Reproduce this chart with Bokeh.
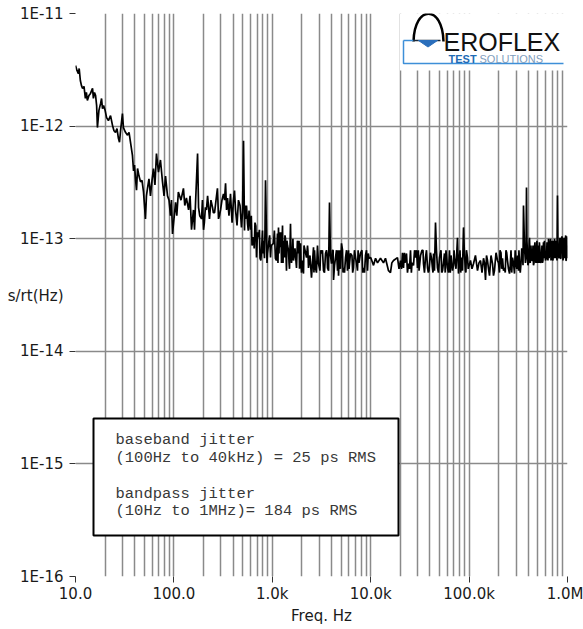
from bokeh.plotting import figure
from bokeh.models import (Range1d, LinearScale, FixedTicker, CustomJSTickFormatter,
                          Label, ColumnDataSource, LogAxis)
from bokeh.core.properties import value
from bokeh.embed import file_html
from bokeh.resources import INLINE

# Jitter spectral density (s/rt(Hz)) per decade of offset frequency.
# Each decade: trace readings, then extra readings across the noise band.
freq_10_100 = [10, 10.7, 11.2, 11.8, 12.6, 13.2, 14.2, 14.9, 15.6, 16.4,
               16.7, 18.0, 18.8, 19.3, 20.7, 21.6, 23.8, 25.5, 27.3, 28.7,
               30.0, 30.7, 33.8, 36.2, 37.9, 38.9, 40.7, 42.7, 45.8, 49.1,
               51.4, 53.9, 57.8, 62.0, 66.5, 69.7, 76.6, 82.2, 86.1, 92.3, 96.8,
               10.35, 10.9, 11.5, 12.2, 12.9, 13.7, 15.2, 16.0, 17.3, 18.4,
               20.0, 22.7, 24.6, 26.4, 28.0, 32.2, 35.0, 39.8, 41.7, 44.2,
               47.4, 52.6, 55.8, 59.9, 64.2, 73.0, 79.4, 89.2, 94.5]
psd_10_100 = [3.45e-12, 2.93e-12, 2.54e-12, 2.16e-12, 1.76e-12, 1.69e-12, 1.95e-12, 2.16e-12, 1.99e-12, 1.52e-12,
              9.7e-13, 1.59e-12, 1.43e-12, 1.52e-12, 1.19e-12, 1.12e-12, 1.01e-12, 8.8e-13, 7.8e-13, 9.1e-13,
              1.29e-12, 9.7e-13, 8.3e-13, 7.2e-13, 5.5e-13, 4.0e-13, 3.4e-13, 4.2e-13, 3.2e-13, 2.6e-13,
              1.5e-13, 2.8e-13, 2.4e-13, 4.2e-13, 5.7e-13, 3.9e-13, 3.2e-13, 3.6e-13, 2.4e-13, 1.6e-13, 1.1e-13,
              3.12e-12, 3.25e-12, 2.29e-12, 2.25e-12, 1.99e-12, 1.87e-12, 1.76e-12, 1.87e-12, 1.38e-12, 1.76e-12,
              1.38e-12, 1.24e-12, 9.1e-13, 9.5e-13, 7.2e-13, 8.8e-13, 8.8e-13, 4.5e-13, 2.7e-13, 3.6e-13,
              3.3e-13, 2.4e-13, 3.4e-13, 3.3e-13, 3.0e-13, 5.0e-13, 2.4e-13, 2.2e-13, 2.2e-13]

freq_100_1k = [104, 111, 125, 134, 141, 151, 158, 166, 174, 178,
               191, 200, 209, 220, 230, 247, 259, 277, 284, 298,
               319, 335, 351, 376, 403, 423, 453, 486, 510, 534,
               560, 600, 644, 691, 724, 777, 814, 853, 894, 959,
               107, 118, 129, 146, 162, 183, 195, 204, 214, 238,
               252, 268, 280, 290, 308, 327, 343, 363, 390, 413,
               438, 470, 498, 522, 547, 580, 622, 667, 707, 750,
               795, 833, 873, 925,
               528, 570, 612, 655, 680, 740, 765, 805, 843, 883, 940, 975]
psd_100_1k = [2.1e-13, 2.6e-13, 2.8e-13, 2.3e-13, 1.8e-13, 1.2e-13, 1.8e-13, 2.1e-13, 5.7e-13, 1.9e-13,
              1.5e-13, 1.2e-13, 1.9e-13, 2.4e-13, 1.5e-13, 1.9e-13, 1.7e-13, 2.8e-13, 1.5e-13, 1.8e-13,
              2.5e-13, 3.1e-13, 2.3e-13, 2.5e-13, 2.2e-13, 1.8e-13, 2.2e-13, 1.26e-13, 7.4e-13, 1.5e-13,
              1.37e-13, 1.2e-13, 1.03e-13, 6.8e-14, 1.03e-13, 7.9e-14, 9.6e-14, 3.3e-13, 7.4e-14, 6.8e-14,
              1.6e-13, 2.2e-13, 1.97e-13, 2.4e-13, 1.2e-13, 1.6e-13, 2.2e-13, 1.39e-13, 1.8e-13, 2.2e-13,
              1.7e-13, 2.2e-13, 2.2e-13, 1.6e-13, 2.2e-13, 2.2e-13, 1.8e-13, 1.6e-13, 1.39e-13, 2.68e-13,
              1.31e-13, 1.97e-13, 1.71e-13, 1.18e-13, 1.97e-13, 1.78e-13, 8.7e-14, 1.39e-13, 1.14e-13, 6.7e-14,
              1.18e-13, 6.7e-14, 1.07e-13, 9.6e-14,
              1.97e-13, 1.18e-13, 1.6e-13, 8.2e-14, 1.3e-13, 1.2e-13, 6.4e-14, 7.4e-14, 1.2e-13, 6.1e-14,
              1.07e-13, 8.7e-14]

freq_1k_10k = [1028, 1129, 1156, 1211, 1270, 1330, 1394, 1461, 1531, 1605,
               1642, 1762, 1846, 1935, 2027, 2075, 2227, 2333, 2502, 2623,
               2748, 2879, 2948, 3160, 3314, 3473, 3640, 3814, 3996, 4190,
               4390, 4600, 4820, 5050, 5290, 5550, 5810, 6230, 6680, 7010,
               7340, 7870, 8450, 8850, 9280,
               1075, 1142, 1183, 1240, 1300, 1362, 1428, 1496, 1568, 1700,
               1800, 1890, 1980, 2150, 2280, 2415, 2560, 2685, 2810, 3050,
               3235, 3390, 3555, 3730, 3900, 4090, 4290, 4490, 4710, 4935,
               5170, 5420, 5680, 6020, 6450, 6840, 7170, 7600, 8150, 8650,
               9060, 9640,
               1050, 1100, 1170, 1225, 1285, 1345, 1410, 1480, 1550, 1620,
               1730, 1870, 1960, 2100, 2300, 2650, 3100, 3600, 4150, 4650,
               5230, 5950, 6560, 7450, 8300, 9450]
psd_1k_10k = [9.1e-14, 1.11e-13, 1.26e-13, 8.4e-14, 1.31e-13, 6.8e-14, 5.2e-14, 7.9e-14, 1.36e-13, 7.9e-14,
              6.4e-14, 5.5e-14, 7.4e-14, 9.1e-14, 6.4e-14, 4.9e-14, 6.8e-14, 5.5e-14, 4.5e-14, 8.4e-14,
              5.5e-14, 8.7e-14, 6.0e-14, 7.4e-14, 5.2e-14, 7.4e-14, 5.5e-14, 2.1e-13, 6.0e-14, 4.3e-14,
              6.8e-14, 5.2e-14, 7.9e-14, 9.1e-14, 5.5e-14, 6.8e-14, 5.2e-14, 7.4e-14, 5.5e-14, 6.8e-14,
              5.2e-14, 7.4e-14, 5.5e-14, 7.1e-14, 5.2e-14,
              6.7e-14, 6.1e-14, 1.14e-13, 6.1e-14, 9.6e-14, 1.0e-13, 8.7e-14, 5.4e-14, 6.1e-14, 8.2e-14,
              9.6e-14, 5.4e-14, 5.0e-14, 7.9e-14, 8.7e-14, 7.1e-14, 6.1e-14, 7.9e-14, 5.0e-14, 5.2e-14,
              7.9e-14, 5.0e-14, 7.9e-14, 5.2e-14, 7.1e-14, 7.9e-14, 5.8e-14, 7.9e-14, 4.7e-14, 5.4e-14,
              7.9e-14, 5.0e-14, 7.9e-14, 5.4e-14, 7.1e-14, 7.9e-14, 6.1e-14, 6.1e-14, 7.9e-14, 5.0e-14,
              7.9e-14, 6.7e-14,
              1.18e-13, 6.4e-14, 7.4e-14, 1.14e-13, 6.1e-14, 1.07e-13, 9.6e-14, 6.1e-14, 7.4e-14, 1.0e-13,
              6.7e-14, 9.6e-14, 6.1e-14, 8.7e-14, 7.9e-14, 5.0e-14, 7.9e-14, 7.4e-14, 7.9e-14, 7.9e-14,
              5.0e-14, 7.9e-14, 5.0e-14, 7.9e-14, 5.0e-14, 7.4e-14]

freq_10k_100k = [10000, 10680, 11720, 12580, 13490, 14130, 15170, 15890, 17050, 18720,
                 20080, 21040, 21540, 23110, 24200, 25380, 27230, 28530, 29900, 32100,
                 34400, 36050, 37800, 40500, 42500, 43500, 45560, 47700, 50000, 53700,
                 56200, 60300, 63200, 67800, 71100, 76200, 78000, 83700, 87700, 91900, 96300,
                 11200, 16400, 19400, 20560, 22300, 23650, 24800, 26300, 27900, 29200,
                 31000, 33200, 35200, 36900, 39100, 41500, 44500, 46600, 48800, 51800,
                 54900, 58200, 61700, 65500, 69400, 73600, 80800, 85700, 89800, 94000, 98000,
                 22000, 25900, 30500, 34000, 38500, 43000, 52700, 57200, 64400, 70300,
                 82200, 92800]
psd_10k_100k = [6.8e-14, 5.8e-14, 6.1e-14, 6.7e-14, 6.1e-14, 6.7e-14, 5.2e-14, 5.0e-14, 6.4e-14, 6.8e-14,
                6.4e-14, 7.5e-14, 5.5e-14, 7.4e-14, 6.0e-14, 7.9e-14, 5.8e-14, 6.8e-14, 5.5e-14, 7.1e-14,
                6.0e-14, 6.8e-14, 5.5e-14, 7.5e-14, 5.4e-14, 7.4e-14, 1.39e-13, 5.5e-14, 6.8e-14, 5.2e-14,
                7.4e-14, 5.5e-14, 7.9e-14, 5.2e-14, 6.8e-14, 1.02e-13, 4.9e-14, 6.8e-14, 1.26e-13, 5.2e-14, 6.8e-14,
                6.7e-14, 6.1e-14, 5.4e-14, 5.4e-14, 6.1e-14, 5.0e-14, 5.4e-14, 6.1e-14, 7.9e-14, 7.9e-14,
                5.2e-14, 7.9e-14, 5.0e-14, 7.9e-14, 5.2e-14, 6.7e-14, 5.2e-14, 7.9e-14, 5.0e-14, 7.9e-14,
                6.1e-14, 7.9e-14, 5.0e-14, 7.1e-14, 5.8e-14, 5.4e-14, 7.9e-14, 5.2e-14, 7.1e-14, 7.9e-14, 5.4e-14,
                7.5e-14, 5.0e-14, 7.9e-14, 7.9e-14, 5.0e-14, 5.0e-14, 5.0e-14, 5.0e-14, 5.0e-14, 7.9e-14,
                5.0e-14, 5.0e-14]

freq_100k_1M = [103300, 110800, 121700, 130600, 140100, 146800, 153800, 161200, 172900, 181100,
                194400, 203700, 218500, 229000, 245500, 257400, 276100, 289300, 310400, 325200,
                348800, 357100, 365600, 383100, 392200, 411000, 441000, 462000, 484000, 507000,
                544000, 570000, 612000, 641000, 688000, 721000, 773000, 791000, 829000, 869000,
                911000, 954000, 977000, 1000000,
                107000, 116000, 126000, 135300, 143400, 150300, 157500, 167000, 177000, 187700,
                199000, 211000, 223700, 237000, 251400, 266500, 282600, 300000, 317700, 337000,
                374000, 401000, 425000, 451000, 473000, 495000, 525000, 557000, 590000, 626000,
                664000, 704000, 747000, 810000, 849000, 890000, 932000, 965000, 988000,
                206000, 214000, 233000, 241000, 262000, 271000, 294000, 305000, 321000, 331000,
                343000, 353000, 379000, 387000, 396000, 418000, 433000, 446000, 457000, 467000,
                478000, 489000, 501000, 513000, 518000, 531000, 550000, 563000, 577000, 583000,
                598000, 619000, 633000, 650000, 672000, 680000, 696000, 712000, 730000, 739000,
                756000, 764000, 782000, 800000, 820000, 838000, 858000, 879000, 900000, 921000,
                943000, 959000, 971000, 983000, 994000]
psd_100k_1M = [6.4e-14, 6.0e-14, 5.2e-14, 6.4e-14, 6.7e-14, 4.3e-14, 6.4e-14, 4.7e-14, 6.0e-14, 5.2e-14,
               6.4e-14, 5.0e-14, 6.7e-14, 5.5e-14, 6.4e-14, 4.9e-14, 6.8e-14, 4.9e-14, 7.1e-14, 6.0e-14,
               7.5e-14, 1.97e-13, 8.4e-14, 2.85e-13, 7.5e-14, 1.02e-13, 6.4e-14, 8.4e-14, 6.8e-14, 8.7e-14,
               6.4e-14, 9.3e-14, 6.8e-14, 1.0e-13, 7.1e-14, 9.6e-14, 7.9e-14, 2.42e-13, 8.4e-14, 1.0e-13,
               7.1e-14, 1.02e-13, 7.4e-14, 8.7e-14,
               5.4e-14, 7.1e-14, 6.1e-14, 5.0e-14, 6.1e-14, 7.1e-14, 5.4e-14, 7.1e-14, 4.7e-14, 7.5e-14,
               6.1e-14, 7.5e-14, 5.2e-14, 7.9e-14, 5.4e-14, 7.9e-14, 6.1e-14, 6.1e-14, 5.2e-14, 6.1e-14,
               6.1e-14, 6.1e-14, 8.7e-14, 5.8e-14, 6.7e-14, 6.1e-14, 7.9e-14, 6.1e-14, 7.9e-14, 7.1e-14,
               8.7e-14, 6.7e-14, 8.2e-14, 7.1e-14, 6.7e-14, 9.3e-14, 8.7e-14, 6.4e-14, 9.6e-14,
               7.9e-14, 5.4e-14, 5.0e-14, 7.5e-14, 5.8e-14, 5.0e-14, 7.9e-14, 5.4e-14, 7.9e-14, 5.0e-14,
               8.2e-14, 5.8e-14, 6.7e-14, 9.6e-14, 5.8e-14, 6.1e-14, 6.4e-14, 8.7e-14, 6.1e-14, 9.3e-14,
               6.1e-14, 9.6e-14, 6.4e-14, 6.1e-14, 9.3e-14, 6.1e-14, 8.7e-14, 6.4e-14, 6.7e-14, 9.6e-14,
               6.4e-14, 9.3e-14, 6.4e-14, 6.7e-14, 1.0e-13, 6.4e-14, 9.6e-14, 6.4e-14, 6.7e-14, 1.0e-13,
               6.7e-14, 9.6e-14, 6.4e-14, 8.7e-14, 6.7e-14, 1.02e-13, 6.7e-14, 1.05e-13, 6.4e-14, 1.02e-13,
               6.7e-14, 1.07e-13, 6.4e-14, 1.05e-13, 6.7e-14]

x_major = [10, 100, 1e3, 1e4, 1e5, 1e6]
x_tick_labels = ["10.0", "100.0", "1.0k", "10.0k", "100.0k", "1.0M"]
y_major = [1e-16, 1e-15, 1e-14, 1e-13, 1e-12, 1e-11]
y_tick_labels = ["1E-16", "1E-15", "1E-14", "1E-13", "1E-12", "1E-11"]
y_title = "s/rt(Hz)"
y_title_at = 3.07e-14
x_title = "Freq. Hz"

box_lines = ["baseband jitter",
             "(100Hz to 40kHz) = 25 ps RMS",
             "bandpass jitter",
             "(10Hz to 1MHz)= 184 ps RMS"]

pairs = sorted(zip(freq_10_100 + freq_100_1k + freq_1k_10k + freq_10k_100k + freq_100k_1M,
                   psd_10_100 + psd_100_1k + psd_1k_10k + psd_10k_100k + psd_100k_1M))
freq = [f for f, _ in pairs]
psd = [v for _, v in pairs]

GRID = "#8a8a8a"
AXIS_FONT = "DejaVu Sans"
LABEL_SIZE = "15px"

p = figure(width=583, height=629, x_axis_type="log", y_axis_type="log",
           x_range=Range1d(10, 1e6), y_range=Range1d(1e-16, 1e-11),
           output_backend="svg", toolbar_location=None,
           min_border_left=75, min_border_right=16, min_border_top=13, min_border_bottom=53)
p.outline_line_color = None
p.background_fill_color = "white"
p.border_fill_color = "white"

# pixel-space ranges for the logo and the annotation box
p.extra_x_ranges = {"px": Range1d(75, 567)}
p.extra_x_scales = {"px": LinearScale()}
p.extra_y_ranges = {"px": Range1d(576, 13)}
p.extra_y_scales = {"px": LinearScale()}

xt = FixedTicker(ticks=x_major,
                 minor_ticks=[m * d for d in [10, 100, 1e3, 1e4, 1e5] for m in range(2, 10)])
yt = FixedTicker(ticks=y_major, minor_ticks=[])
p.xaxis.ticker = xt
p.yaxis.ticker = yt
p.xgrid.ticker = xt
p.ygrid.ticker = yt
p.xaxis.formatter = CustomJSTickFormatter(args=dict(labels=x_tick_labels),
                                          code="return labels[Math.round(Math.log10(tick)) - 1];")

for g in (p.xgrid, p.ygrid):
    g.grid_line_color = GRID
    g.grid_line_width = 1.5
p.xgrid.minor_grid_line_color = GRID
p.xgrid.minor_grid_line_width = 1.5
p.ygrid.minor_grid_line_color = None

for ax in (p.xaxis, p.yaxis):
    ax.axis_line_color = None
    ax.major_tick_in = 0
    ax.major_tick_out = 6
    ax.major_tick_line_color = "#333333"
    ax.minor_tick_line_color = None
    ax.major_label_text_font = AXIS_FONT
    ax.major_label_text_font_size = LABEL_SIZE
    ax.major_label_text_color = "#1a1a1a"
p.xaxis.major_label_standoff = 2
p.xaxis.axis_label = x_title
p.xaxis.axis_label_text_font = AXIS_FONT
p.xaxis.axis_label_text_font_size = LABEL_SIZE
p.xaxis.axis_label_text_font_style = "normal"
p.xaxis.axis_label_text_color = "#1a1a1a"
p.xaxis.axis_label_standoff = 1

# inner left axis carries only the tick marks
p.yaxis.formatter = CustomJSTickFormatter(code="return '';")
p.yaxis.major_label_standoff = 0

# outer left axis carries the decade labels and the unit title
ylab_axis = LogAxis(ticker=FixedTicker(ticks=y_major + [y_title_at], minor_ticks=[]),
                    formatter=CustomJSTickFormatter(
                        args=dict(labels=y_tick_labels, title=y_title, title_at=y_title_at),
                        code="if (Math.abs(tick - title_at) < 1e-20) return title;"
                             " return labels[Math.round(Math.log10(tick)) + 16];"),
                    axis_line_color=None, major_tick_line_color=None, minor_tick_line_color=None,
                    major_tick_in=0, major_tick_out=0, major_label_standoff=6,
                    major_label_text_font=AXIS_FONT, major_label_text_font_size=LABEL_SIZE,
                    major_label_text_color="#1a1a1a")
p.add_layout(ylab_axis, "left")

# spectrum trace
src = ColumnDataSource(dict(f=freq, v=psd))
p.line("f", "v", source=src, line_color="black", line_width=1.7)

# logo panel
px = dict(x_range_name="px", y_range_name="px")
p.quad(left=[399.5], right=[567], top=[13], bottom=[70], fill_color="white", line_color=None, **px)
p.bezier(x0=[413], y0=[41], x1=[443], y1=[41], cx0=[414], cy0=[4], cx1=[442], cy1=[4],
         line_color="black", line_width=2.5, **px)
p.line(x=[403, 403, 563], y=[40, 63, 63], line_color="#3d8fd8", line_width=1.5, **px)
p.line(x=[403, 413], y=[40, 40], line_color="#3d8fd8", line_width=1.5, **px)
p.line(x=[413, 440], y=[40, 40], line_color="#1a2a3a", line_width=1.5, **px)
p.patch(x=[418, 437, 427.5], y=[40, 40, 46.5], fill_color="#2a6ebb", line_color="#2a6ebb", **px)
p.add_layout(Label(x=443, y=41, text="EROFLEX", text_font="Liberation Sans", text_font_size="25px",
                   text_color="#111111", text_baseline="alphabetic", **px))
p.add_layout(Label(x=448, y=58, text="TEST", text_font="Liberation Sans", text_font_size="11px",
                   text_font_style="bold", text_color="#1f6cb5", text_baseline="alphabetic", **px))
p.add_layout(Label(x=479, y=58, text="SOLUTIONS", text_font="Liberation Sans", text_font_size="11px",
                   text_color="#7f9dbd", text_baseline="alphabetic", **px))

# result box
p.quad(left=[93], right=[398], top=[418], bottom=[535], fill_color="white",
       line_color="black", line_width=2, **px)
p.text(x=[115, 115, 115, 115], y=[439, 457, 493, 510], text=box_lines,
       text_font=value("Liberation Mono"), text_font_size="15.5px", text_color="#383838",
       text_baseline="middle", **px)

open("out.html", "w").write(file_html(p, INLINE))
